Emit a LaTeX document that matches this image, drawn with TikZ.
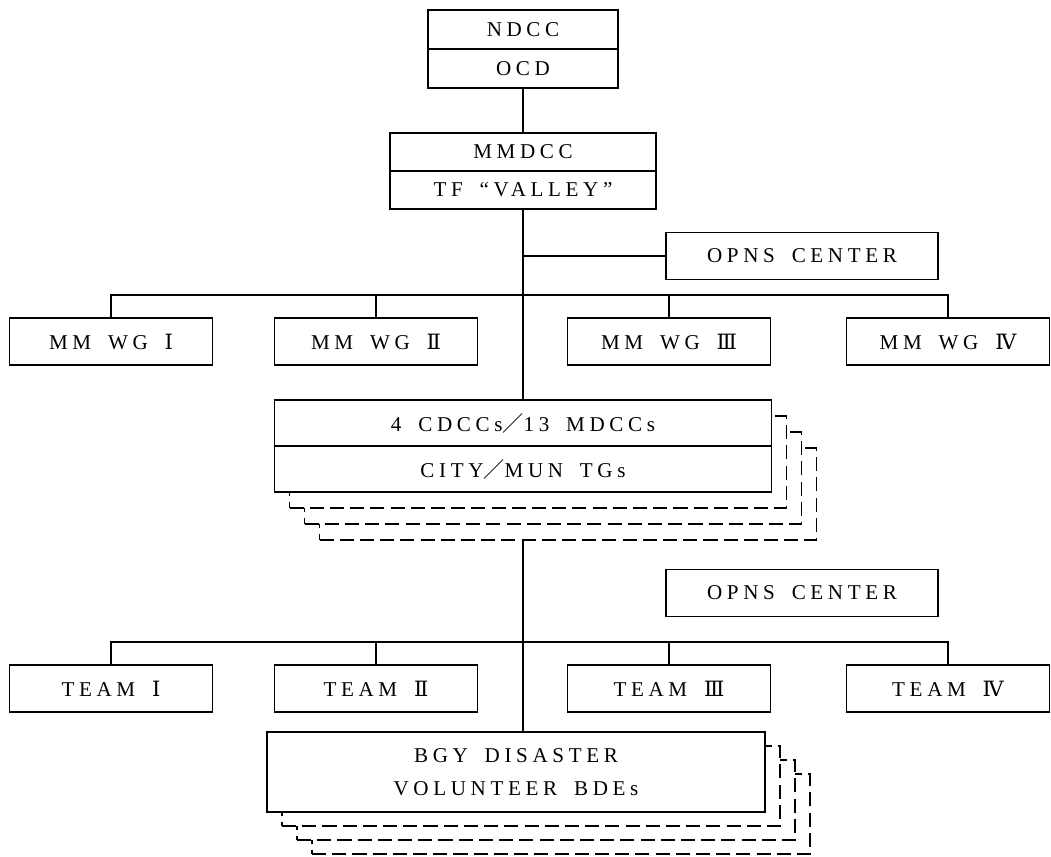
\documentclass[tikz,border=0pt]{standalone}
\usepackage{fontspec}
\setmainfont{Liberation Serif}[LetterSpace=22]
\newfontfamily\numfont{DejaVu Serif}
\newfontfamily\cjkfont{Noto Sans CJK JP}
\usetikzlibrary{positioning}
\newcommand{\chartfont}{\fontsize{12}{14}\selectfont}
\newcommand{\wgap}{\hspace{0.8em}}
\newcommand{\fslash}{{\cjkfont ／}}
\begin{document}
\begin{tikzpicture}
[x=0.02cm,y=-0.02cm,
 boxdecorate/.style={shape=rectangle,draw,line width=0.9pt,fill=white,inner sep=0pt,outer sep=0pt,font=\chartfont},%
 cmdbox/.style={boxdecorate,minimum width=3.8cm,minimum height=0.78cm},%
 taskbox/.style={boxdecorate,minimum width=5.32cm,minimum height=0.76cm},%
 opnsbox/.style={boxdecorate,minimum width=5.44cm,minimum height=0.94cm},%
 unitbox/.style={boxdecorate,minimum width=4.06cm,minimum height=0.94cm},%
 stackbox/.style={boxdecorate,minimum width=9.94cm,minimum height=0.92cm},%
 bgybox/.style={boxdecorate,minimum width=9.96cm,minimum height=1.6cm,align=center,font=\fontsize{12}{19}\selectfont},%
 copydecorate/.style={shape=rectangle,draw,line width=0.9pt,dash pattern=on 8pt off 3.5pt,fill=white,inner sep=0pt,outer sep=0pt},%
 linedecorate/.style={-,line width=0.9pt}]
\useasboundingbox (0,0) rectangle (1051,856);
%% command boxes
\node (ndcc) at (523,29.5) [cmdbox] {NDCC};
\node (ocd) [cmdbox,below=0pt of ndcc] {OCD};
\node (mmdcc) at (523,152) [taskbox] {MMDCC};
\node (tfvalley) [taskbox,below=0pt of mmdcc] {TF\wgap“VALLEY”};
%% operations centers
\node (opnsa) at (802,256) [opnsbox] {OPNS\wgap CENTER};
\node (opnsb) at (802,593) [opnsbox] {OPNS\wgap CENTER};
%% working groups and teams
\foreach \nodename/\x/\num in {wgone/111/Ⅰ, wgtwo/376/Ⅱ, wgthree/669/Ⅲ, wgfour/948/Ⅳ} {
  \node (\nodename) at (\x,341.5) [unitbox] {MM\wgap WG\wgap{\numfont\num}};
}
\foreach \nodename/\x/\num in {teamone/111/Ⅰ, teamtwo/376/Ⅱ, teamthree/669/Ⅲ, teamfour/948/Ⅳ} {
  \node (\nodename) at (\x,688.5) [unitbox] {TEAM\wgap{\numfont\num}};
}
%% stacked copies, back to front
\foreach \k in {3,2,1} {
  \node (cdcccopy\k) at (523+15*\k,446+16*\k) [copydecorate,minimum width=9.94cm,minimum height=1.84cm] {};
  \node (bgycopy\k) at (516+15*\k,772+14*\k) [copydecorate,minimum width=9.96cm,minimum height=1.6cm] {};
}
\node (cdcc) at (523,423) [stackbox] {4\wgap CDCCs\fslash 13\wgap MDCCs};
\node (citymun) [stackbox,below=0pt of cdcc] {CITY\fslash MUN\wgap TGs};
\node (bgy) at (516,772) [bgybox] {BGY\wgap DISASTER\\VOLUNTEER\wgap BDEs};
%% bars
\coordinate (bara) at (523,295);
\coordinate (barb) at (523,642);
\draw[linedecorate] (wgone.north) |- (bara) -| (wgfour.north);
\draw[linedecorate] (teamone.north) |- (barb) -| (teamfour.north);
%% edges or lines
\path
(ocd) edge[linedecorate] (mmdcc)
(tfvalley) edge[linedecorate] (cdcc)
(tfvalley.south |- opnsa.west) edge[linedecorate] (opnsa.west)
(wgtwo) edge[linedecorate] (wgtwo.north |- bara)
(wgthree) edge[linedecorate] (wgthree.north |- bara)
(teamtwo) edge[linedecorate] (teamtwo.north |- barb)
(teamthree) edge[linedecorate] (teamthree.north |- barb)
(citymun.south |- cdcccopy3.south) edge[linedecorate] (citymun.south |- bgy.north);
\end{tikzpicture}
\end{document}
